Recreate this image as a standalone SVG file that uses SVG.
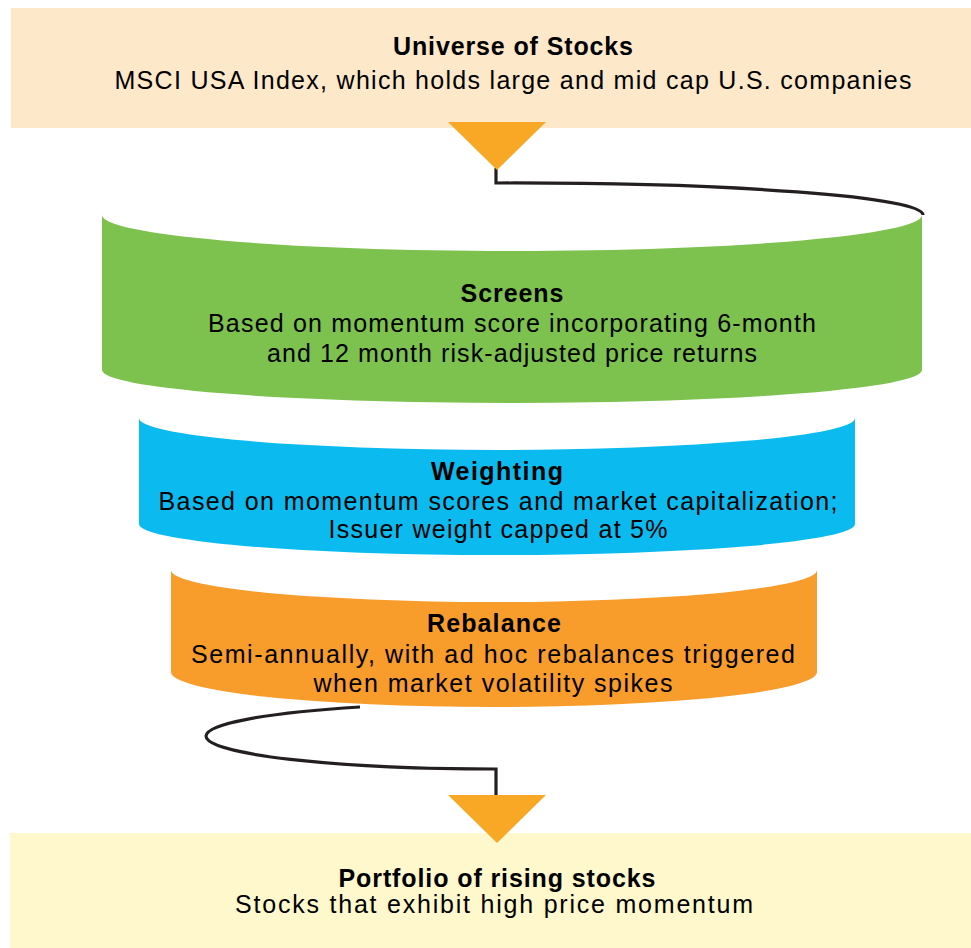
<svg xmlns="http://www.w3.org/2000/svg" width="971" height="948" viewBox="0 0 971 948">
<style>
.t{font-family:"Liberation Sans",Arial,sans-serif;font-size:25px;fill:#000;text-anchor:middle}
.b{font-weight:bold}
.conn{fill:none;stroke:#231f20;stroke-width:3.2}
.tri{fill:#f9a825}
</style>
<rect width="971" height="948" fill="#fff"/>
<g id="connectors">
<path class="conn" d="M496,168 V183 A411,32 0 0 1 923,215"/>
<path class="conn" d="M360,707 A288,33 0 0 0 206,736 A288,33 0 0 0 494,769 H496 V797"/>
</g>
<g id="universe">
<rect x="11" y="8" width="960" height="120" fill="#fde8ca"/>
<text class="t b" x="513" y="55" textLength="240">Universe of Stocks</text>
<text class="t" x="513" y="89" textLength="797">MSCI USA Index, which holds large and mid cap U.S. companies</text>
</g>
<g id="arrow-top"><polygon class="tri" points="448,122 546,122 497,170"/></g>
<g id="screens">
<path fill="#7dc24e" d="M102,215 A410,36 0 0 0 922,215 L922,370 A410,33 0 0 1 102,370 Z"/>
<text class="t b" x="512" y="302" textLength="103">Screens</text>
<text class="t" x="512" y="332" textLength="608">Based on momentum score incorporating 6-month</text>
<text class="t" x="512" y="362" textLength="490">and 12 month risk-adjusted price returns</text>
</g>
<g id="weighting">
<path fill="#0bbbef" d="M139,418 A358,32 0 0 0 855,418 L855,524 A358,31 0 0 1 139,524 Z"/>
<text class="t b" x="497" y="480" textLength="132">Weighting</text>
<text class="t" x="498" y="510" textLength="679">Based on momentum scores and market capitalization;</text>
<text class="t" x="498" y="538" textLength="339">Issuer weight capped at 5%</text>
</g>
<g id="rebalance">
<path fill="#f89c2c" d="M171,570 A323,32 0 0 0 817,570 L817,672 A323,35 0 0 1 171,672 Z"/>
<text class="t b" x="494" y="632" textLength="134">Rebalance</text>
<text class="t" x="493" y="663" textLength="604">Semi-annually, with ad hoc rebalances triggered</text>
<text class="t" x="493" y="692" textLength="359">when market volatility spikes</text>
</g>
<g id="portfolio">
<rect x="10" y="833" width="961" height="115" fill="#fef8cc"/>
<text class="t b" x="497" y="887" textLength="317">Portfolio of rising stocks</text>
<text class="t" x="494" y="913" textLength="518">Stocks that exhibit high price momentum</text>
</g>
<g id="arrow-bottom"><polygon class="tri" points="448,795 546,795 497,843"/></g>
</svg>
